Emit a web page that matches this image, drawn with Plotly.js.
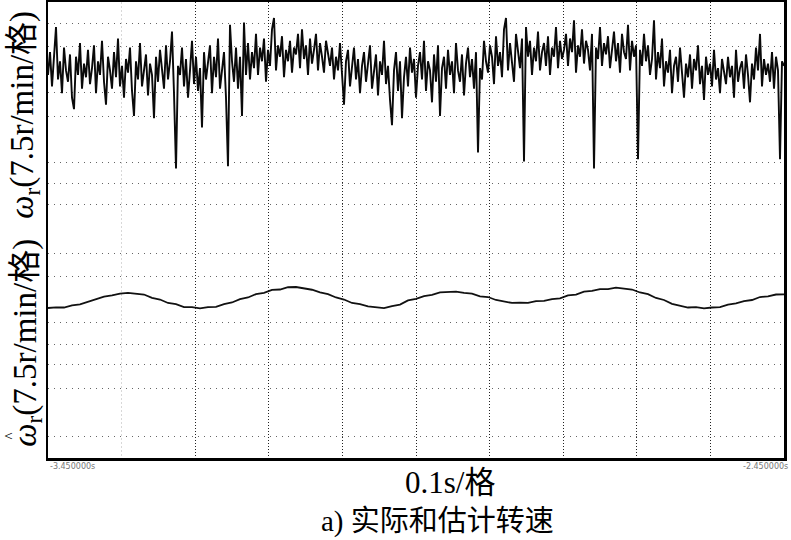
<!DOCTYPE html>
<html>
<head>
<meta charset="utf-8">
<script src="https://cdn.plot.ly/plotly-3.0.1.min.js"></script>
<style>html,body{margin:0;padding:0;background:#fff;}#chart{width:791px;height:540px;}</style>
</head>
<body>
<div id="chart"></div>
<script>
// Scope record: 1.0 s window (10 div x 0.1 s), vertical in scope counts (25 counts per division, 8 divisions)
const timeStart = 0;
const timeSpan = 1.0;
const timeLabels = ["-3.450000s", "-2.450000s"];

// actual speed ω_r (scope counts)
const actualSpeed = [
168,178,163,175,189,166,174,160,180,170,165,177,158,153,176,168,182,162,173,167,
179,164,171,181,160,174,168,183,165,155,176,170,162,178,167,184,163,172,158,175,
169,180,161,150,174,166,182,163,171,177,159,173,168,149,176,165,179,170,162,181,
166,174,187,160,127,172,168,180,163,175,158,170,183,164,176,161,171,145,178,166,
173,181,160,176,167,184,162,170,178,158,128,190,174,165,180,162,176,150,191,168,
182,166,178,171,186,168,180,174,184,165,179,172,188,193,170,181,176,185,167,179,
174,183,169,180,177,186,171,188,175,181,168,184,173,179,186,170,182,176,169,183,
178,172,180,166,176,170,182,168,155,174,179,163,171,180,166,175,160,172,178,165,
173,181,162,170,177,159,174,168,183,164,172,157,146,170,178,161,174,149,167,176,
163,180,169,175,158,172,178,166,183,161,174,170,156,177,165,181,150,171,176,162,
179,168,174,160,182,170,165,177,159,173,180,167,175,162,178,134,171,166,183,174,
169,181,176,164,185,172,178,167,188,193,170,182,174,165,186,177,171,184,130,189,
176,183,168,180,174,187,170,178,182,172,185,168,180,176,189,171,183,175,179,186,
172,184,178,192,169,181,176,188,173,183,179,170,186,127,180,175,189,172,182,177,
185,171,180,187,174,182,169,186,178,175,190,170,183,176,181,131,179,172,186,174,
181,168,175,192,166,178,171,184,163,174,169,179,160,172,176,165,180,168,158,173,
167,177,162,175,170,181,164,172,157,176,168,173,163,179,166,171,160,175,169,164,
176,167,172,158,179,165,171,174,162,177,168,156,173,166,180,170,186,163,175,168,
173,165,178,162,176,170,131,174,172
];

// estimated speed ω̂_r (scope counts)
const estimatedSpeed = [
65.8,66.1,66.0,66.9,67.4,68.6,69.5,70.8,71.3,72.1,72.4,71.9,71.7,70.2,69.5,68.0,67.5,66.2,66.2,65.6,
66.2,66.3,67.5,68.2,69.7,70.4,71.9,72.4,73.7,73.9,74.9,75.0,74.4,73.8,72.6,71.9,70.4,69.5,68.0,67.5,
66.5,66.2,65.7,66.6,67.3,69.1,69.8,71.0,71.5,72.6,72.7,73.0,72.4,72.1,70.9,70.6,69.3,68.8,68.0,68.1,
68.0,68.8,68.9,69.7,70.0,71.3,71.7,73.0,73.3,74.1,74.1,74.7,74.2,73.9,72.6,71.9,70.2,69.3,67.6,66.9,
66.0,66.2,65.6,66.0,66.2,67.3,67.8,68.8,69.3,70.6,70.9,71.7,71.8
];

const ySpan = 200;
const hGrid = [190.4,180.3,160.1,150,129.4,120.2,111.4,89.9,79.8,59.6,50,40.8,30.3,9.6];
const vGrid = [0.2,0.3,0.4,0.5,0.6,0.7,0.8,0.9];
const vGridFaint = [0.1];

const tA = actualSpeed.map((_, i) => timeStart + timeSpan * i / (actualSpeed.length - 1));
const tE = estimatedSpeed.map((_, i) => timeStart + timeSpan * i / (estimatedSpeed.length - 1));

const traces = [
  {x: tA, y: actualSpeed, type: 'scatter', mode: 'lines', line: {color: '#0a0a0a', width: 1.9}, hoverinfo: 'skip'},
  {x: tE, y: estimatedSpeed, type: 'scatter', mode: 'lines', line: {color: '#111', width: 1.8}, hoverinfo: 'skip'}
];

const serif = "'Liberation Serif', 'Noto Sans CJK SC', serif";
const layout = {
  width: 791, height: 540,
  margin: {l: 48, r: 7, t: 2, b: 82},
  paper_bgcolor: '#fff', plot_bgcolor: '#fff',
  showlegend: false,
  xaxis: {
    range: [timeStart, timeStart + timeSpan], fixedrange: true,
    showline: true, mirror: true, linecolor: '#000', linewidth: 2.5,
    tickmode: 'array', tickvals: vGrid, showticklabels: false, ticks: '',
    showgrid: true, gridcolor: '#222', gridwidth: 1, griddash: '1px,2px',
    zeroline: false,
    minor: {tickmode: 'array', tickvals: vGridFaint, showgrid: true, gridcolor: '#d8d8d8', griddash: '2px,2px', gridwidth: 1, ticks: ''}
  },
  yaxis: {
    range: [0, ySpan], fixedrange: true,
    showline: true, mirror: true, linecolor: '#000', linewidth: 2.5,
    tickmode: 'array', tickvals: hGrid, showticklabels: false, ticks: '',
    showgrid: true, gridcolor: '#666', gridwidth: 1, griddash: '1px,5px',
    zeroline: false
  },
  annotations: [
    {xref: 'paper', yref: 'paper', x: -0.033, y: 0.752, xanchor: 'center', yanchor: 'middle', textangle: -90, showarrow: false,
     text: "<i>ω</i><sub>r</sub>(7.5r/min/格)", font: {family: serif, size: 33, color: '#000'}},
    {xref: 'paper', yref: 'paper', x: -0.029, y: 0.252, xanchor: 'center', yanchor: 'middle', textangle: -90, showarrow: false,
     text: "<i>ω</i><sub>r</sub>(7.5r/min/格)", font: {family: serif, size: 33, color: '#000'}},
    {xref: 'paper', yref: 'paper', x: -0.0516, y: 0.047, xanchor: 'center', yanchor: 'middle', textangle: -90, showarrow: false,
     text: "^", font: {family: serif, size: 15, color: '#000'}},
    {xref: 'paper', yref: 'paper', x: 0, y: -0.004, xanchor: 'left', yanchor: 'top', showarrow: false,
     text: timeLabels[0], font: {family: 'DejaVu Sans', size: 8, color: '#777'}},
    {xref: 'paper', yref: 'paper', x: 1.008, y: -0.004, xanchor: 'right', yanchor: 'top', showarrow: false,
     text: timeLabels[1], font: {family: 'DejaVu Sans', size: 8, color: '#777'}},
    {xref: 'paper', yref: 'paper', x: 0.546, y: -0.053, xanchor: 'center', yanchor: 'middle', showarrow: false,
     text: "0.1s/格", font: {family: serif, size: 31, color: '#000'}},
    {xref: 'paper', yref: 'paper', x: 0.529, y: -0.14, xanchor: 'center', yanchor: 'middle', showarrow: false,
     text: "a) 实际和估计转速", font: {family: serif, size: 29, color: '#000'}}
  ]
};

Plotly.newPlot('chart', traces, layout, {staticPlot: true, displayModeBar: false});
</script>
</body>
</html>
